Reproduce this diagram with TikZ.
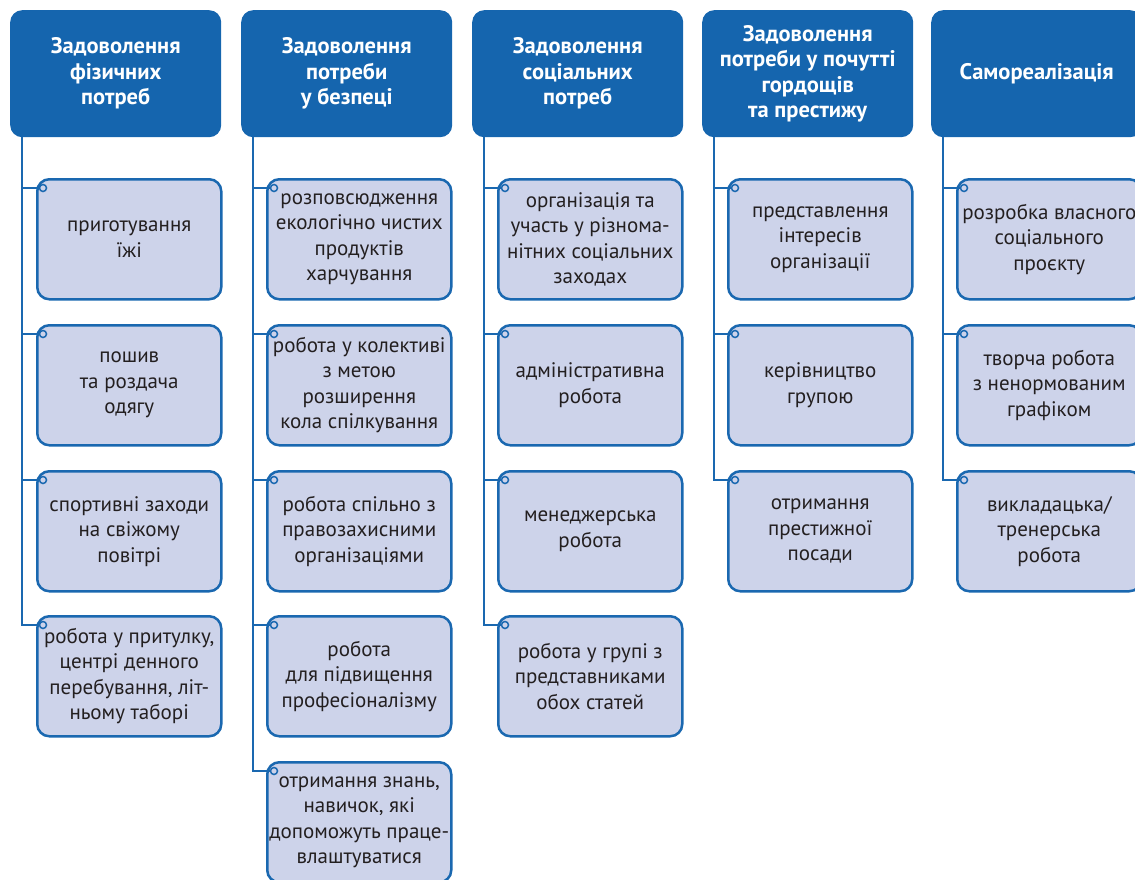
\documentclass[tikz,border=0pt]{standalone}
\usepackage{fontspec}
\setmainfont{PT Sans}
\definecolor{headblue}{HTML}{1565AE}
\definecolor{lineblue}{HTML}{1A68B0}
\definecolor{boxfill}{HTML}{CDD3EA}
\definecolor{textgrey}{HTML}{231F20}

\begin{document}
\begin{tikzpicture}[x=1pt,y=-1pt]
    \tikzstyle{head}=[rectangle,rounded corners=12pt,fill=headblue,text=white,font=\bfseries\fontsize{22.5}{25.5}\selectfont,align=center,minimum width=211pt,minimum height=127pt,anchor=north west,inner sep=0pt]
    \tikzstyle{item}=[rectangle,rounded corners=12pt,draw=lineblue,line width=2.5pt,fill=boxfill,text=textgrey,font=\fontsize{21}{25.5}\selectfont,align=center,minimum width=184pt,minimum height=120pt,anchor=north west,inner sep=0pt]
    \tikzstyle{dot}=[circle,draw=lineblue,line width=1.5pt,fill=boxfill,inner sep=0pt,minimum size=7pt]
    \tikzstyle{link}=[draw=lineblue,line width=2.5pt]
    \useasboundingbox (0,0) rectangle (1135,880);
    \clip (0,0) rectangle (1135,880);

    % headers
    \node (h1)[head] at (10,10) {Задоволення\\фізичних\\потреб};
    \node (h2)[head] at (241,10) {Задоволення\\потреби\\у безпеці};
    \node (h3)[head] at (472,10) {Задоволення\\соціальних\\потреб};
    \node (h4)[head] at (702,10) {Задоволення\\потреби у почутті\\гордощів\\та престижу};
    \node (h5)[head] at (931,10) {Самореалізація};

    % column 1
    \node (b11)[item] at (36,178) {приготування\\їжі};
    \node (b12)[item] at (36,324) {пошив\\та роздача\\одягу};
    \node (b13)[item] at (36,470) {спортивні заходи\\на свіжому\\повітрі};
    \node (b14)[item] at (36,615) {робота у притулку,\\центрі денного\\перебування, літ-\\ньому таборі};

    % column 2
    \node (b21)[item] at (266,178) {розповсюдження\\екологічно чистих\\продуктів\\харчування};
    \node (b22)[item] at (266,324) {робота у колективі\\з метою\\розширення\\кола спілкування};
    \node (b23)[item] at (266,470) {робота спільно з\\правозахисними\\організаціями};
    \node (b24)[item] at (266,615) {робота\\для підвищення\\професіоналізму};
    \node (b25)[item] at (266,761) {отримання знань,\\навичок, які\\допоможуть праце-\\влаштуватися};

    % column 3
    \node (b31)[item] at (497,178) {організація та\\участь у різнома-\\нітних соціальних\\заходах};
    \node (b32)[item] at (497,324) {адміністративна\\робота};
    \node (b33)[item] at (497,470) {менеджерська\\робота};
    \node (b34)[item] at (497,615) {робота у групі з\\представниками\\обох статей};

    % column 4
    \node (b41)[item] at (727,178) {представлення\\інтересів\\організації};
    \node (b42)[item] at (727,324) {керівництво\\групою};
    \node (b43)[item] at (727,470) {отримання\\престижної\\посади};

    % column 5
    \node (b51)[item] at (956,178) {розробка власного\\соціального\\проєкту};
    \node (b52)[item] at (956,324) {творча робота\\з ненормованим\\графіком};
    \node (b53)[item] at (956,470) {викладацька/\\тренерська\\робота};

    % dots
    \node (c11)[dot] at (43,188) {};
    \node (c12)[dot] at (43,334) {};
    \node (c13)[dot] at (43,480) {};
    \node (c14)[dot] at (43,625) {};
    \node (c21)[dot] at (274,188) {};
    \node (c22)[dot] at (274,334) {};
    \node (c23)[dot] at (274,480) {};
    \node (c24)[dot] at (274,625) {};
    \node (c25)[dot] at (274,771) {};
    \node (c31)[dot] at (505,188) {};
    \node (c32)[dot] at (505,334) {};
    \node (c33)[dot] at (505,480) {};
    \node (c34)[dot] at (505,625) {};
    \node (c41)[dot] at (735,188) {};
    \node (c42)[dot] at (735,334) {};
    \node (c43)[dot] at (735,480) {};
    \node (c51)[dot] at (964,188) {};
    \node (c52)[dot] at (964,334) {};
    \node (c53)[dot] at (964,480) {};

    % trunks
    \coordinate (t1) at (22,137);
    \coordinate (t2) at (253,137);
    \coordinate (t3) at (484,137);
    \coordinate (t4) at (714,137);
    \coordinate (t5) at (943,137);

    \draw[link] (t1) |- (c14);
    \draw[link] (t1 |- c11) -- (c11);
    \draw[link] (t1 |- c12) -- (c12);
    \draw[link] (t1 |- c13) -- (c13);

    \draw[link] (t2) |- (c25);
    \draw[link] (t2 |- c21) -- (c21);
    \draw[link] (t2 |- c22) -- (c22);
    \draw[link] (t2 |- c23) -- (c23);
    \draw[link] (t2 |- c24) -- (c24);

    \draw[link] (t3) |- (c34);
    \draw[link] (t3 |- c31) -- (c31);
    \draw[link] (t3 |- c32) -- (c32);
    \draw[link] (t3 |- c33) -- (c33);

    \draw[link] (t4) |- (c43);
    \draw[link] (t4 |- c41) -- (c41);
    \draw[link] (t4 |- c42) -- (c42);

    \draw[link] (t5) |- (c53);
    \draw[link] (t5 |- c51) -- (c51);
    \draw[link] (t5 |- c52) -- (c52);
\end{tikzpicture}
\end{document}
